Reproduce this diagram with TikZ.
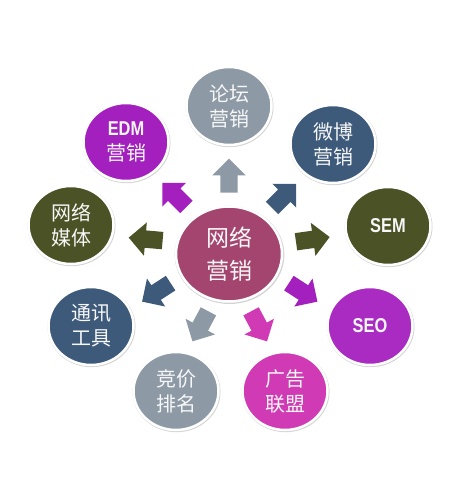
\documentclass[tikz,border=0pt]{standalone}
\usepackage{fontspec}
\setmainfont{Liberation Sans}
\newfontfamily\cjk{Noto Sans CJK SC}
\newfontfamily\narrowsans[FakeStretch=0.82]{Liberation Sans}
\usetikzlibrary{calc}
\usetikzlibrary{shapes.geometric, shapes.arrows, shadows}

\definecolor{hubred}{HTML}{A3456F}
\definecolor{slategrey}{HTML}{8D9AA6}
\definecolor{deepblue}{HTML}{3D5A7A}
\definecolor{darkolive}{HTML}{4B5225}
\definecolor{edmpurple}{HTML}{A420BE}
\definecolor{rosepink}{HTML}{D03AB4}

\tikzset{
  bubble/.style={ellipse, minimum width=85pt, minimum height=78pt, inner sep=0pt,
    draw=white, line width=2.5pt, text=white!94!gray, align=center,
    font=\cjk\fontsize{20}{25}\selectfont,
    drop shadow={shadow xshift=0.5pt, shadow yshift=-0.8pt, shadow scale=1.035,
      opacity=0.35, fill=gray}},
  latin/.style={font=\narrowsans\bfseries\fontsize{20}{25}\selectfont},
  blockarrow/.style={single arrow, minimum height=34pt, inner sep=8.5pt,
    single arrow head extend=8pt, draw=none}
}

\begin{document}
\begin{tikzpicture}[x=1pt, y=-1pt]
\useasboundingbox (0, 0) rectangle (453, 489);

% hub
\node [bubble, fill=hubred, minimum width=106pt, minimum height=95pt,
  font=\cjk\fontsize{23}{33}\selectfont] (hub) at (229, 254) {网络\\营销};

% outer circles
\node [bubble, fill=slategrey] (forum) at (229, 106) {论坛\\营销};
\node [bubble, fill=edmpurple] (edm) at (126, 142) {{\narrowsans\bfseries\fontsize{20}{25}\selectfont EDM}\\营销};
\node [bubble, fill=deepblue] (weibo) at (333, 144) {微博\\营销};
\node [bubble, fill=darkolive] (media) at (71, 225) {网络\\媒体};
\node [bubble, latin, fill=darkolive] (sem) at (388, 226) {SEM};
\node [bubble, fill=deepblue] (chat) at (91, 326) {通讯\\工具};
\node [bubble, latin, fill=edmpurple!95!white] (seo) at (370, 326) {SEO};
\node [bubble, fill=slategrey] (bid) at (176, 391) {竞价\\排名};
\node [bubble, fill=rosepink] (ads) at (285, 391) {广告\\联盟};

% arrows
\node [blockarrow, fill=slategrey, rotate=90] (toforum) at ($(hub)!0.5!(forum)$) {};
\node [blockarrow, fill=edmpurple, rotate=135] (toedm) at ($(hub)!0.5!(edm)$) {};
\node [blockarrow, fill=deepblue, rotate=45] (toweibo) at ($(hub)!0.5!(weibo)$) {};
\node [blockarrow, fill=darkolive, rotate=175] (tomedia) at ($(hub)!0.5!(media)$) {};
\node [blockarrow, fill=darkolive, rotate=8] (tosem) at ($(hub)!0.5!(sem)$) {};
\node [blockarrow, fill=deepblue, rotate=213] (tochat) at ($(hub)!0.5!(chat)$) {};
\node [blockarrow, fill=edmpurple, rotate=327] (toseo) at ($(hub)!0.5!(seo)$) {};
\node [blockarrow, fill=slategrey, rotate=242] (tobid) at ($(hub)!0.5!(bid)$) {};
\node [blockarrow, fill=rosepink, rotate=298] (toads) at ($(hub)!0.5!(ads)$) {};

\end{tikzpicture}
\end{document}
